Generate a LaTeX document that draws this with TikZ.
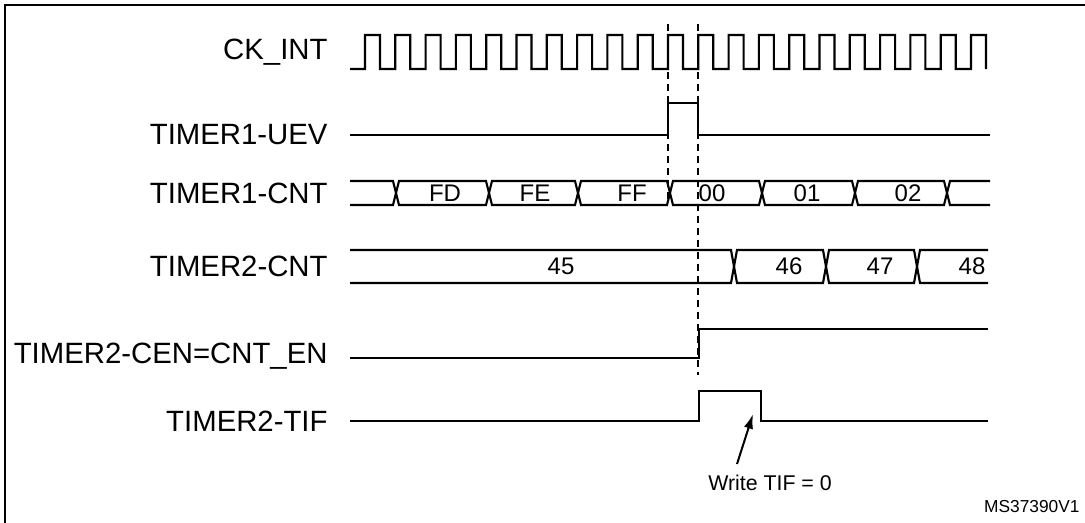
\documentclass[tikz,border=0pt]{standalone}
\usepackage{fontspec}
\setmainfont{Liberation Sans}
\usetikzlibrary{arrows.meta, positioning}

\begin{document}
\begin{tikzpicture}[x=0.75pt, y=-0.75pt, line width=1.5pt,
  sig/.style={anchor=east, font=\fontsize{22}{24}\selectfont},
  val/.style={font=\fontsize{18}{20}\selectfont},
  wave/.style={line width=1.6pt, line join=miter},
  vmark/.style={line width=1pt, dash pattern=on 5pt off 4pt}]
  \useasboundingbox (0,0) rectangle (1085,522);
  % Frame
  \draw[line width=1.5pt] (5,530) -- (5,5) -- (1090,5);

  % Signal names
  \node[sig] (ck) at (333,52) {CK\_INT};
  \node[sig] (uev) at (333,135) {TIMER1-UEV};
  \node[sig] (cnt1) at (333,193) {TIMER1-CNT};
  \node[sig] (cnt2) at (333,266) {TIMER2-CNT};
  \node[sig] (cen) at (333,356) {TIMER2-CEN=CNT\_EN};
  \node[sig] (tif) at (333,421) {TIMER2-TIF};

  % Clock
  \draw[wave] (350,69) -- (365,69)
    \foreach \k in {0,...,19} {
      -- ({365+30.3*\k},35) -- ({380+30.3*\k},35) -- ({380+30.3*\k},69)
      -- ({395.3+30.3*\k},69) }
    -- (971,35) -- (986,35) -- (986,69);

  % Update event
  \draw[wave] (350,135) -- (668,135) -- (668,103) -- (698,103) -- (698,135) -- (990,135);

  % Timer 1 counter
  \draw[wave] (350,181) -- (393,181) -- (399,205) -- (486,205) -- (492,181)
    -- (575,181) -- (581,205) -- (667,205) -- (673,181) -- (759,181)
    -- (765,205) -- (852,205) -- (858,181) -- (944,181) -- (950,205) -- (990,205);
  \draw[wave] (350,205) -- (393,205) -- (399,181) -- (486,181) -- (492,205)
    -- (575,205) -- (581,181) -- (667,181) -- (673,205) -- (759,205)
    -- (765,181) -- (852,181) -- (858,205) -- (944,205) -- (950,181) -- (990,181);
  \foreach \x/\t in {445/FD, 535/FE, 632/FF, 712/00, 807/01, 908/02}
    \node[val] at (\x,193) {\t};

  % Timer 2 counter
  \draw[wave] (350,250) -- (731,250) -- (737,283) -- (823,283) -- (829,250)
    -- (914,250) -- (920,283) -- (988,283);
  \draw[wave] (350,283) -- (731,283) -- (737,250) -- (823,250) -- (829,283)
    -- (914,283) -- (920,250) -- (988,250);
  \foreach \x/\t in {561/45, 789/46, 880/47, 972/48}
    \node[val] at (\x,266) {\t};

  % Counter enable
  \draw[wave] (350,358) -- (699,358) -- (699,329) -- (988,329);

  % Trigger interrupt flag
  \draw[wave] (350,421) -- (699,421) -- (699,391) -- (761,391) -- (761,421) -- (988,421);

  % Dashed markers
  \draw[vmark] (668,24) -- (668,200);
  \draw[vmark] (698,24) -- (698,375);

  % Annotation
  \node[font=\fontsize{16}{18}\selectfont] (wr) at (770,483) {Write TIF = 0};
  \coordinate (wrtip) at (753,414);
  \draw[-{Latex[length=11pt,width=7pt]}, line width=1.5pt] (737,464) -- (wrtip);
  \node[font=\fontsize{13}{15}\selectfont, anchor=east] (ref) at (1085,507) {MS37390V1};
\end{tikzpicture}
\end{document}
